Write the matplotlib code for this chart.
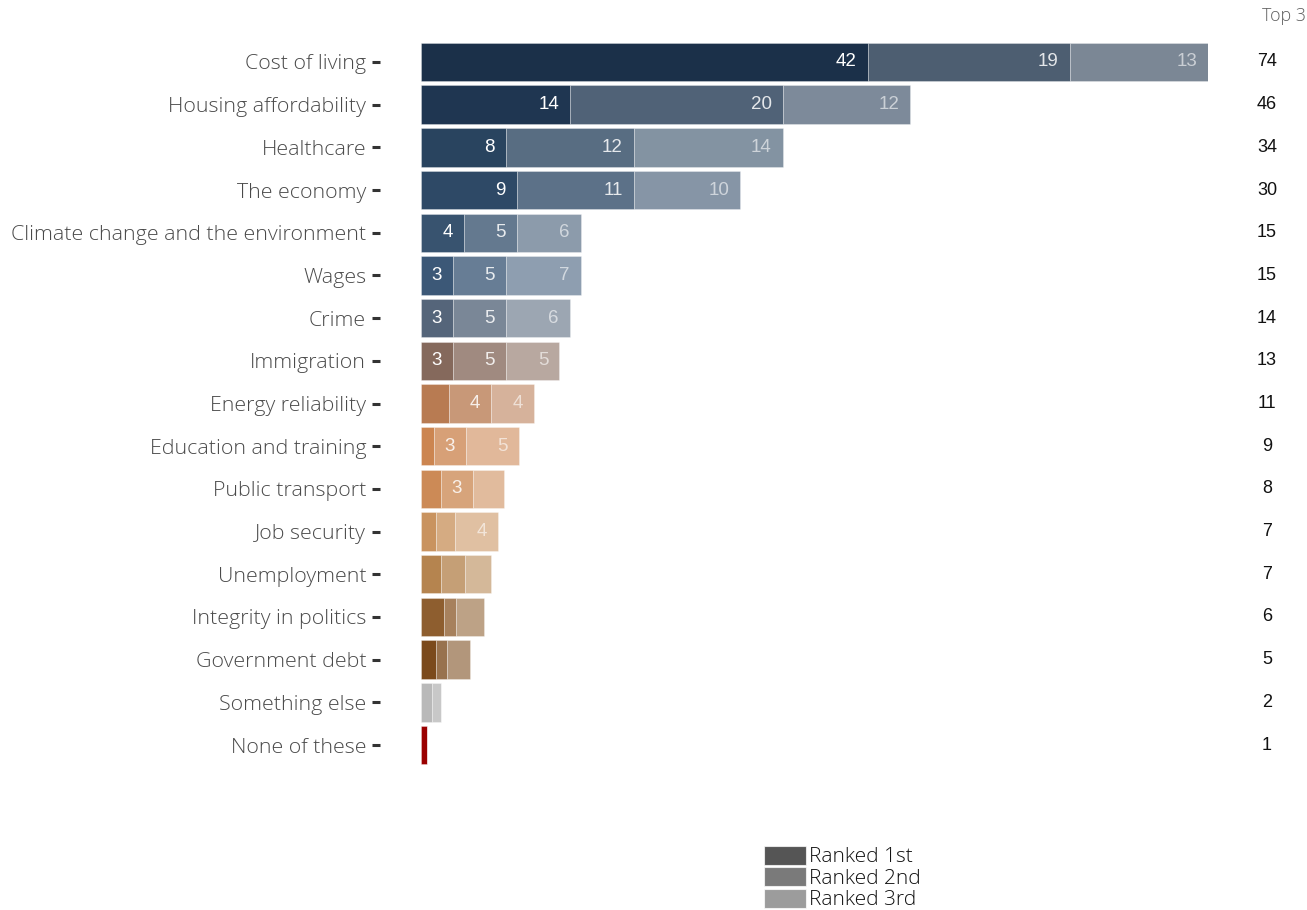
import matplotlib
matplotlib.use("Agg")
import matplotlib.pyplot as plt
from matplotlib.patches import Patch
from matplotlib.colors import to_rgb
import matplotlib.transforms as mtransforms

categories = ["Cost of living", "Housing affordability", "Healthcare", "The economy",
              "Climate change and the environment", "Wages", "Crime", "Immigration",
              "Energy reliability", "Education and training", "Public transport",
              "Job security", "Unemployment", "Integrity in politics",
              "Government debt", "Something else", "None of these"]
ranked_1st = [42, 14, 8, 9, 4, 3, 3, 3, 2.6, 1.2, 1.9, 1.4, 1.9, 2.2, 1.4, 1.0, 0.6]
ranked_2nd = [19, 20, 12, 11, 5, 5, 5, 5, 4, 3, 3, 1.8, 2.2, 1.1, 1.0, 0.9, 0]
ranked_3rd = [13, 12, 14, 10, 6, 7, 6, 5, 4, 5, 2.9, 4, 2.5, 2.6, 2.2, 0, 0]
top3 = [74, 46, 34, 30, 15, 15, 14, 13, 11, 9, 8, 7, 7, 6, 5, 2, 1]
row_colors = ["#1b3049", "#1f3651", "#29445f", "#2e4966", "#38536f", "#3c5877",
              "#55657a", "#85695c", "#b87b52", "#cc8550", "#cc8a56", "#c9935f",
              "#b5844f", "#8e5e2f", "#7b4a1c", "#b9b9b9", "#9a0000"]
legend_labels = ["Ranked 1st", "Ranked 2nd", "Ranked 3rd"]

alphas = [1.0, 0.78, 0.58]
text_alphas = [1.0, 0.85, 0.6]
label_font = "Open Sans"

def blend(c, a):
    r, g, b = to_rgb(c)
    return (1 - a + a * r, 1 - a + a * g, 1 - a + a * b)

W, H = 1307, 910
fig = plt.figure(figsize=(W / 100, H / 100), dpi=100)
left_px, right_px = 421, 1208
top_px, bot_px = 40.6, 766.4
ax = fig.add_axes([left_px / W, 1 - bot_px / H, (right_px - left_px) / W, (bot_px - top_px) / H])

for s in ["top", "right", "bottom"]:
    ax.spines[s].set_visible(False)
ax.spines["left"].set_position(("outward", 29.5))
ax.spines["left"].set_visible(False)

n = len(categories)
ypos = list(range(n))
series = [ranked_1st, ranked_2nd, ranked_3rd]
starts = [0.0] * n
for k, vals in enumerate(series):
    cols = [blend(c, alphas[k]) for c in row_colors]
    ax.barh(ypos, vals, left=starts, height=0.9, color=cols,
            edgecolor=(1, 1, 1, 0.35), linewidth=0.6)
    for i, v in enumerate(vals):
        if v >= 3:
            ax.annotate(f"{v:.0f}", xy=(starts[i] + v, i), xytext=(-11, 0),
                        textcoords="offset pixels", ha="right", va="center",
                        fontsize=13.5, family="Liberation Sans",
                        color=(1, 1, 1, text_alphas[k]))
    starts = [s + v for s, v in zip(starts, vals)]

ax.set_xlim(0, 74)
ax.set_ylim(n - 0.5, -0.5)
ax.set_xticks([])
ax.set_yticks(ypos)
ax.set_yticklabels(categories, family=label_font, fontsize=15.4,
                   fontweight="light", color="#4a4a4a")
ax.tick_params(axis="y", length=6, width=2.2, color="#333333", pad=4)

# Top 3 column
trans = mtransforms.blended_transform_factory(fig.transFigure, ax.transData)
for i, t in enumerate(top3):
    ax.text(1267 / W, i, f"{t}", transform=trans, ha="center", va="center",
            fontsize=13, family="Liberation Sans", color="#111111")
fig.text(1284 / W, 1 - 16 / H, "Top 3", ha="center", va="center",
         fontsize=12.8, family=label_font, fontweight="light", color="#606060")

handles = [Patch(facecolor=blend("#555555", a), edgecolor=(1, 1, 1, 0.7), linewidth=0.8)
           for a in alphas]
fig.legend(handles, legend_labels, loc="upper left",
           bbox_to_anchor=(764 / W, 1 - 846 / H), frameon=False,
           prop={"family": label_font, "size": 15, "weight": "light"},
           labelcolor="#111111",
           handlelength=2.0, handleheight=1.0, labelspacing=0.0,
           handletextpad=0.15, borderpad=0, borderaxespad=0)

fig.savefig("out.png", dpi=100, facecolor="white")
